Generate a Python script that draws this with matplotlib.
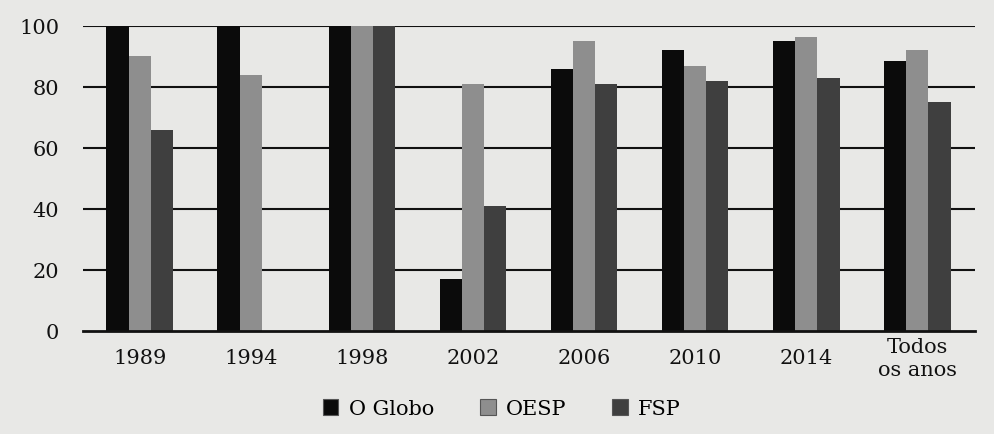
import numpy as np
import matplotlib.pyplot as plt

# valores (%)
categories = ['1989', '1994', '1998', '2002', '2006', '2010', '2014', 'Todos\nos anos']
o_globo = [100, 100, 100, 17, 86, 92, 95, 88.5]
oesp = [90, 84, 100, 81, 95, 87, 96.5, 92]
fsp = [66, 0, 100, 41, 81, 82, 83, 75]

plt.rcParams['font.family'] = ['DejaVu Serif']

bg = '#e8e8e6'
fig = plt.figure(figsize=(9.94, 4.35), dpi=100, facecolor=bg)
ax = fig.add_axes([0.0835, 0.237, 0.8975, 0.701])
ax.set_facecolor(bg)

x = np.arange(len(categories))
w = 0.2
ax.bar(x - w, o_globo, w, color='#0b0b0b', label='O Globo', zorder=3)
ax.bar(x, oesp, w, color='#8e8e8e', label='OESP', zorder=3)
ax.bar(x + w, fsp, w, color='#3f3f3f', label='FSP', zorder=3)

ax.set_xlim(-0.51, 7.52)
ax.set_ylim(0, 100)
ax.set_yticks([0, 20, 40, 60, 80, 100])
for v in [20, 40, 60, 80, 100]:
    ax.axhline(v, color='#111111', lw=1.5, zorder=1)
ax.axhline(0, color='#111111', lw=2, zorder=4, clip_on=False)

for s in ax.spines.values():
    s.set_visible(False)
ax.tick_params(axis='both', length=0, labelsize=15, colors='#111111')
ax.tick_params(axis='y', pad=17)
ax.tick_params(axis='x', pad=12)
ax.set_xticks(x)
ax.set_xticklabels(categories, linespacing=1.25)
ax.get_xticklabels()[-1].set_y(0.035)

leg = fig.legend(loc='center', bbox_to_anchor=(0.505, 0.058), ncol=3, frameon=False,
                 fontsize=15, handlelength=0.75, handleheight=0.75, columnspacing=2.2,
                 handletextpad=0.5)
for h in leg.legend_handles:
    h.set_edgecolor('#555555')
    h.set_linewidth(0.8)

fig.savefig('out.png', dpi=100, facecolor=bg)
